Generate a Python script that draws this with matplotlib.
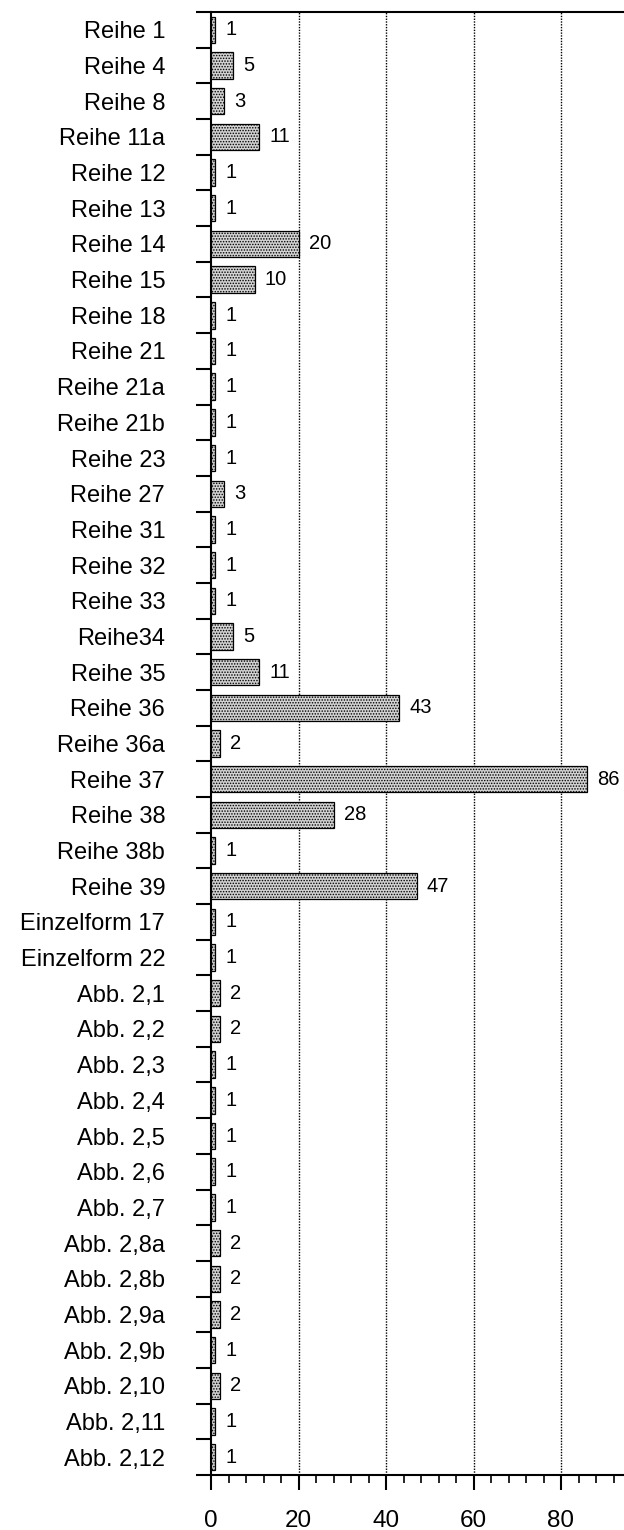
import matplotlib.pyplot as plt
from matplotlib.ticker import MultipleLocator, FixedLocator
import numpy as np

categories = [
    "Reihe 1", "Reihe 4", "Reihe 8", "Reihe 11a", "Reihe 12", "Reihe 13",
    "Reihe 14", "Reihe 15", "Reihe 18", "Reihe 21", "Reihe 21a", "Reihe 21b",
    "Reihe 23", "Reihe 27", "Reihe 31", "Reihe 32", "Reihe 33", "Reihe34",
    "Reihe 35", "Reihe 36", "Reihe 36a", "Reihe 37", "Reihe 38", "Reihe 38b",
    "Reihe 39", "Einzelform 17", "Einzelform 22", "Abb. 2,1", "Abb. 2,2",
    "Abb. 2,3", "Abb. 2,4", "Abb. 2,5", "Abb. 2,6", "Abb. 2,7", "Abb. 2,8a",
    "Abb. 2,8b", "Abb. 2,9a", "Abb. 2,9b", "Abb. 2,10", "Abb. 2,11", "Abb. 2,12",
]
values = [
    1, 5, 3, 11, 1, 1,
    20, 10, 1, 1, 1, 1,
    1, 3, 1, 1, 1, 5,
    11, 43, 2, 86, 28, 1,
    47, 1, 1, 2, 2,
    1, 1, 1, 1, 1, 2,
    2, 2, 1, 2, 1, 1,
]

plt.rcParams['font.family'] = ['Liberation Sans', 'DejaVu Sans']
plt.rcParams['hatch.color'] = '#707070'
plt.rcParams['hatch.linewidth'] = 0.7

fig = plt.figure(figsize=(6.24, 15.3), dpi=100)
ax = fig.add_axes([211 / 624, 1 - 1475 / 1530, 1 - 211 / 624, (1475 - 12) / 1530])

n = len(categories)
y = np.arange(n)
ax.barh(y, values, height=0.74, color='#d2d2d2', edgecolor='black',
        linewidth=0.9, hatch='......', zorder=3)

for yi, v in zip(y, values):
    ax.text(v + 2.3, yi, str(v), va='center', ha='left', fontsize=14.5, zorder=4)

ax.set_xlim(0, 94.4)
ax.set_ylim(n - 0.5, -0.5)

# labels centered on rows, ticks on row boundaries
ax.set_yticks(y)
ax.set_yticklabels(categories, fontsize=17)
ax.tick_params(axis='y', which='major', length=0, pad=33)
ax.yaxis.set_minor_locator(FixedLocator(np.arange(-0.5, n, 1.0)))
ax.tick_params(axis='y', which='minor', length=11, width=1.5, direction='out')

ax.xaxis.set_major_locator(MultipleLocator(20))
ax.xaxis.set_minor_locator(MultipleLocator(4))
ax.tick_params(axis='x', which='major', length=11, width=1.5, direction='out',
               labelsize=17.5, pad=14)
ax.tick_params(axis='x', which='minor', length=5.5, width=1.2, direction='out')

for gx in [20, 40, 60, 80]:
    ax.axvline(gx, color='black', linestyle=(0, (1, 1)), linewidth=1.0, zorder=1)

ax.spines['right'].set_visible(False)
for s in ['top', 'bottom', 'left']:
    ax.spines[s].set_linewidth(1.5)

fig.savefig("out.png", dpi=100)
